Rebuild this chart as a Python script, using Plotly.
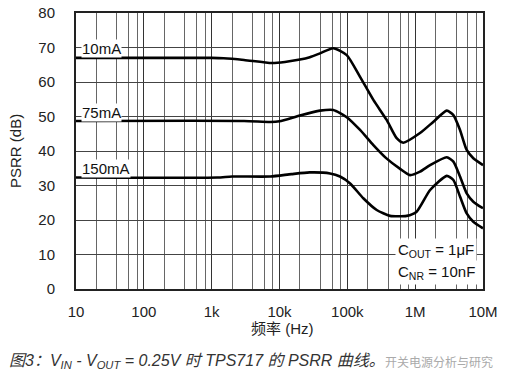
import numpy as np
import plotly.graph_objects as go

# ---- data ----
f_10mA = [10, 1000, 1500, 3000, 7700, 12000, 20000, 28000, 39500, 62000, 98000,
          154000, 242000, 380000, 534000, 669000, 1180000, 1860000, 2920000,
          3660000, 4580000, 5750000, 7200000, 10000000]
psrr_10mA = [67.0, 67.0, 66.9, 66.4, 65.5, 65.8, 66.5, 67.2, 68.3, 69.8, 67.8,
             61.5, 54.8, 49.0, 43.7, 42.4, 45.2, 48.5, 51.7,
             50.4, 46.1, 40.3, 37.9, 35.9]

f_75mA = [10, 3000, 7300, 10000, 20000, 39500, 62000, 98000, 154000, 242000, 370000,
          600000, 840000, 1180000, 1660000, 2920000, 3660000, 4580000, 5750000, 7200000, 10000000]
psrr_75mA = [48.7, 48.7, 48.4, 48.6, 50.3, 51.7, 51.9, 49.8, 46.1, 41.7, 38.0,
             34.8, 33.0, 34.0, 35.9, 38.2, 36.9, 32.6, 27.7, 25.3, 23.4]

f_150mA = [10, 1200, 2000, 7300, 15000, 28000, 55600, 78000, 110000, 172000, 271000,
           426000, 750000, 1050000, 1660000, 2920000, 3660000, 4580000, 5750000,
           7200000, 10000000]
psrr_150mA = [32.3, 32.3, 32.6, 32.6, 33.3, 33.8, 33.5, 32.6, 30.6, 26.3, 22.9,
              21.2, 21.2, 22.4, 28.7, 32.8, 31.6, 26.8, 21.9,
              19.5, 17.6]

series_names = ["10mA", "75mA", "150mA"]
x_tickvals = [10, 100, 1e3, 1e4, 1e5, 1e6, 1e7]
x_ticktext = ["10", "100", "1k", "10k", "100k", "1M", "10M"]
y_tickvals = [0, 10, 20, 30, 40, 50, 60, 70, 80]

# ---- layout geometry (pixels) ----
W, H = 506, 380
L, R, T, B = 76, 483, 13, 289
def px(x):
    return (x - L) / (R - L)
def py(y):
    return (B - y) / (B - T)

FONT = "Liberation Sans, Arial, Noto Sans CJK SC, sans-serif"

fig = go.Figure()
for f, p, n in [(f_10mA, psrr_10mA, series_names[0]),
                (f_75mA, psrr_75mA, series_names[1]),
                (f_150mA, psrr_150mA, series_names[2])]:
    fig.add_trace(go.Scatter(x=f, y=p, mode="lines", name=n,
                             line=dict(color="black", width=2.6, shape="spline", smoothing=0.6),
                             showlegend=False, hoverinfo="skip"))

minor_vals = []
for d in range(1, 7):
    for m in (2, 4, 6, 8):
        minor_vals.append(m * 10 ** d)

fig.update_xaxes(type="log", range=[1, 7], tickvals=x_tickvals, ticktext=x_ticktext,
                 showgrid=True, gridcolor="#333", gridwidth=1,
                 minor=dict(tickmode="array", tickvals=minor_vals, showgrid=True,
                            gridcolor="#666", gridwidth=1, ticks=""),
                 showline=True, linecolor="#222", linewidth=2, mirror=True,
                 ticks="outside", ticklen=8, tickcolor="rgba(0,0,0,0)",
                 tickfont=dict(family=FONT, size=15, color="#222"),
                 zeroline=False, automargin=False)
fig.update_yaxes(range=[0, 80], tickvals=y_tickvals,
                 showgrid=True, gridcolor="#444", gridwidth=1,
                 showline=True, linecolor="#222", linewidth=2, mirror=True,
                 ticks="outside", ticklen=16, tickcolor="rgba(0,0,0,0)",
                 tickfont=dict(family=FONT, size=15, color="#222"),
                 zeroline=False, automargin=False)

annots = []
# curve labels
for name, (x0, yc) in zip(series_names, [(81, 48.5), (81, 112.5), (81, 168)]):
    annots.append(dict(text=name, xref="paper", yref="paper", x=px(x0), y=py(yc),
                       xanchor="left", yanchor="middle", showarrow=False,
                       bgcolor="white", borderpad=0,
                       font=dict(family=FONT, size=15, color="#111")))
# capacitor note
annots.append(dict(text="C<sub>OUT</sub> = 1\u03bcF", xref="paper", yref="paper",
                   x=px(395), y=py(250), xanchor="left", yanchor="middle", showarrow=False,
                   bgcolor="white", borderpad=2,
                   font=dict(family=FONT, size=15, color="#111")))
annots.append(dict(text="C<sub>NR</sub> = 10nF", xref="paper", yref="paper",
                   x=px(395), y=py(272), xanchor="left", yanchor="middle", showarrow=False,
                   bgcolor="white", borderpad=2,
                   font=dict(family=FONT, size=15, color="#111")))
# axis titles
annots.append(dict(text="PSRR (dB)", xref="paper", yref="paper", x=px(15), y=py(151),
                   xanchor="center", yanchor="middle", textangle=-90, showarrow=False,
                   font=dict(family=FONT, size=15, color="#222")))
annots.append(dict(text="频率 (Hz)", xref="paper", yref="paper", x=px(282), y=py(328),
                   xanchor="center", yanchor="middle", showarrow=False,
                   font=dict(family=FONT, size=15, color="#222")))
# caption
annots.append(dict(text="<i>图3：V<sub>IN</sub> - V<sub>OUT</sub> = 0.25V 时 TPS717 的 PSRR 曲线。</i>",
                   xref="paper", yref="paper", x=px(7), y=py(361),
                   xanchor="left", yanchor="middle", showarrow=False,
                   font=dict(family=FONT, size=16, color="#333")))
# watermark
annots.append(dict(text="开关电源分析与研究", xref="paper", yref="paper", x=px(383), y=py(361),
                   xanchor="left", yanchor="middle", showarrow=False,
                   font=dict(family="Noto Sans CJK SC, sans-serif", size=12, color="#aaa")))

fig.update_layout(width=W, height=H, margin=dict(l=L, r=W - R, t=T, b=H - B, autoexpand=False),
                  paper_bgcolor="white", plot_bgcolor="white",
                  annotations=annots)

fig.write_html("out.html", config={"displayModeBar": False},
               post_script="document.body.style.margin='0';document.body.style.padding='0';document.body.style.overflow='hidden';")
